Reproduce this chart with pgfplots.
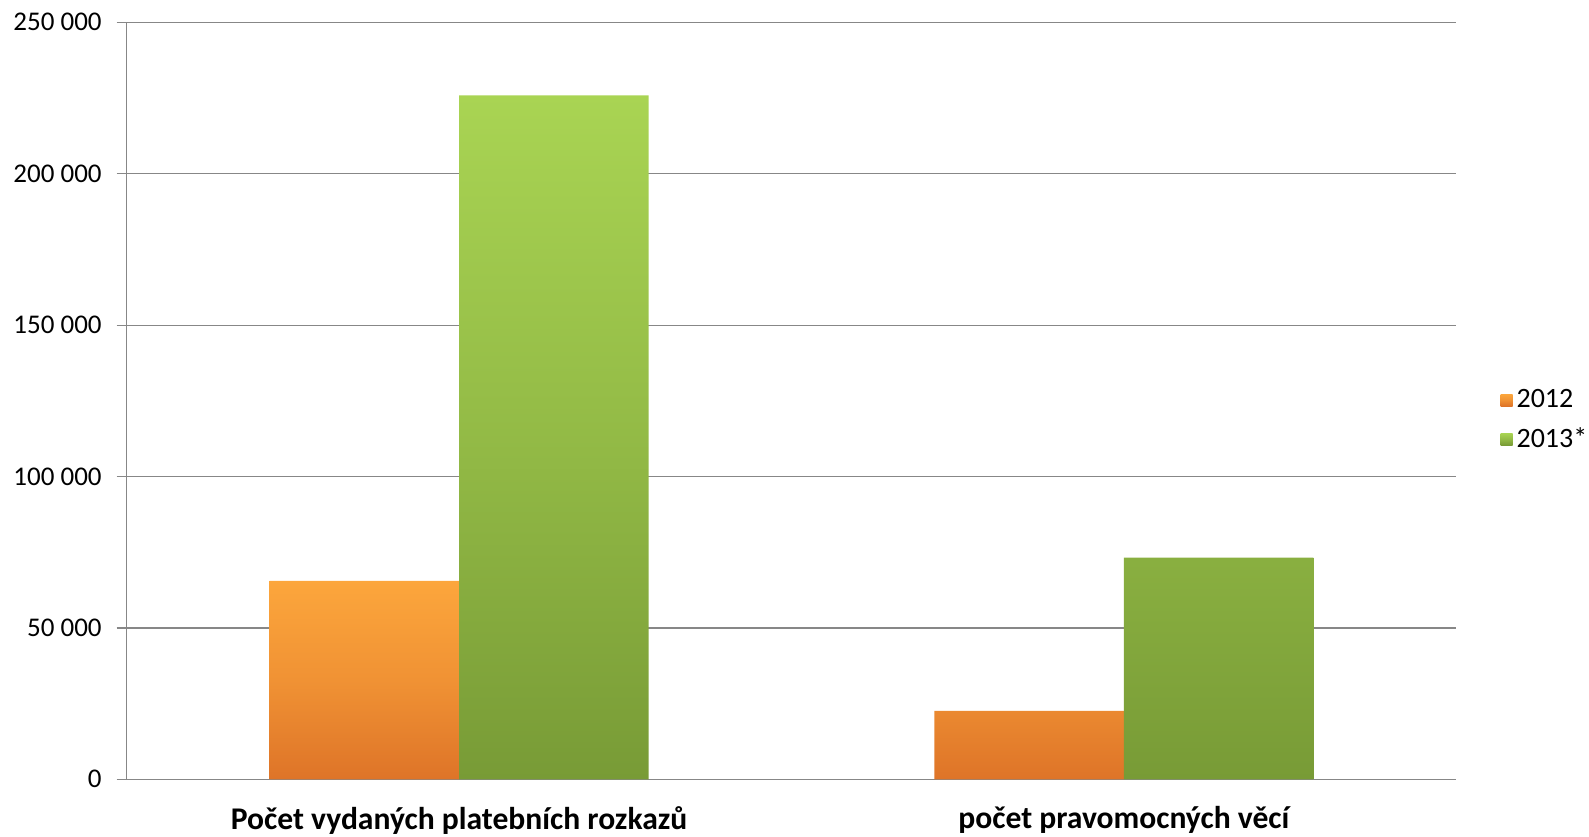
\documentclass[border=0pt]{standalone}
\usepackage{pgfplots}
\pgfplotsset{compat=1.18}
\usepackage{fontspec}
\setmainfont{Carlito}
\definecolor{orTop}{HTML}{FCA63C}
\definecolor{orBot}{HTML}{DE7428}
\definecolor{grTop}{HTML}{A9D453}
\definecolor{grBot}{HTML}{789B36}
\definecolor{gridc}{HTML}{878787}
\begin{document}
\begin{tikzpicture}
\useasboundingbox (0,0) rectangle (794.5pt,418pt);
\begin{axis}[
  at={(63.35pt,28.35pt)}, anchor=south west,
  scale only axis, width=664.8pt, height=378.5pt,
  xmin=-0.5, xmax=1.5, ymin=0, ymax=250000,
  axis x line*=bottom, axis y line*=left,
  axis line style={gridc, line width=0.6pt},
  ytick={0,50000,100000,150000,200000,250000},
  yticklabels={0,50 000,100 000,150 000,200 000,250 000},
  ymajorgrids, grid style={gridc, line width=0.6pt},
  y tick label style={font=\fontsize{13.5}{16}\selectfont, xshift=-4pt},
  ytick style={gridc, line width=0.6pt},
  tick align=outside, major tick length=5pt,
  xtick={0,1},
  xticklabels={Počet vydaných platebních rozkazů, počet pravomocných věcí},
  x tick label style={font=\fontsize{15.8}{18}\selectfont\bfseries, yshift=-5pt},
  x tick style={draw=none},
  extra x ticks={-0.5,0.5,1.5}, extra x tick labels={},
  extra x tick style={tick style={gridc, line width=0.6pt, draw=gridc}, major tick length=6pt},
  ybar=0pt, bar width=0.285,
  legend style={draw=none, at={(1.033,0.4746)}, anchor=west, font=\fontsize{14}{16}\selectfont, row sep=4.5pt, inner sep=0pt},
  legend cell align=left,
  legend image code/.code={\path[#1, draw=none] (0pt,-3pt) rectangle (6pt,3pt);},
]
\addplot[draw=none, top color=orTop, bottom color=orBot, middle color=orTop!60!orBot] coordinates {(0,65500) (1,22600)};
\addplot[draw=none, top color=grTop, bottom color=grBot, middle color=grTop!55!grBot] coordinates {(0,225900) (1,73200)};
\legend{2012, 2013*}
\end{axis}
\end{tikzpicture}
\end{document}
